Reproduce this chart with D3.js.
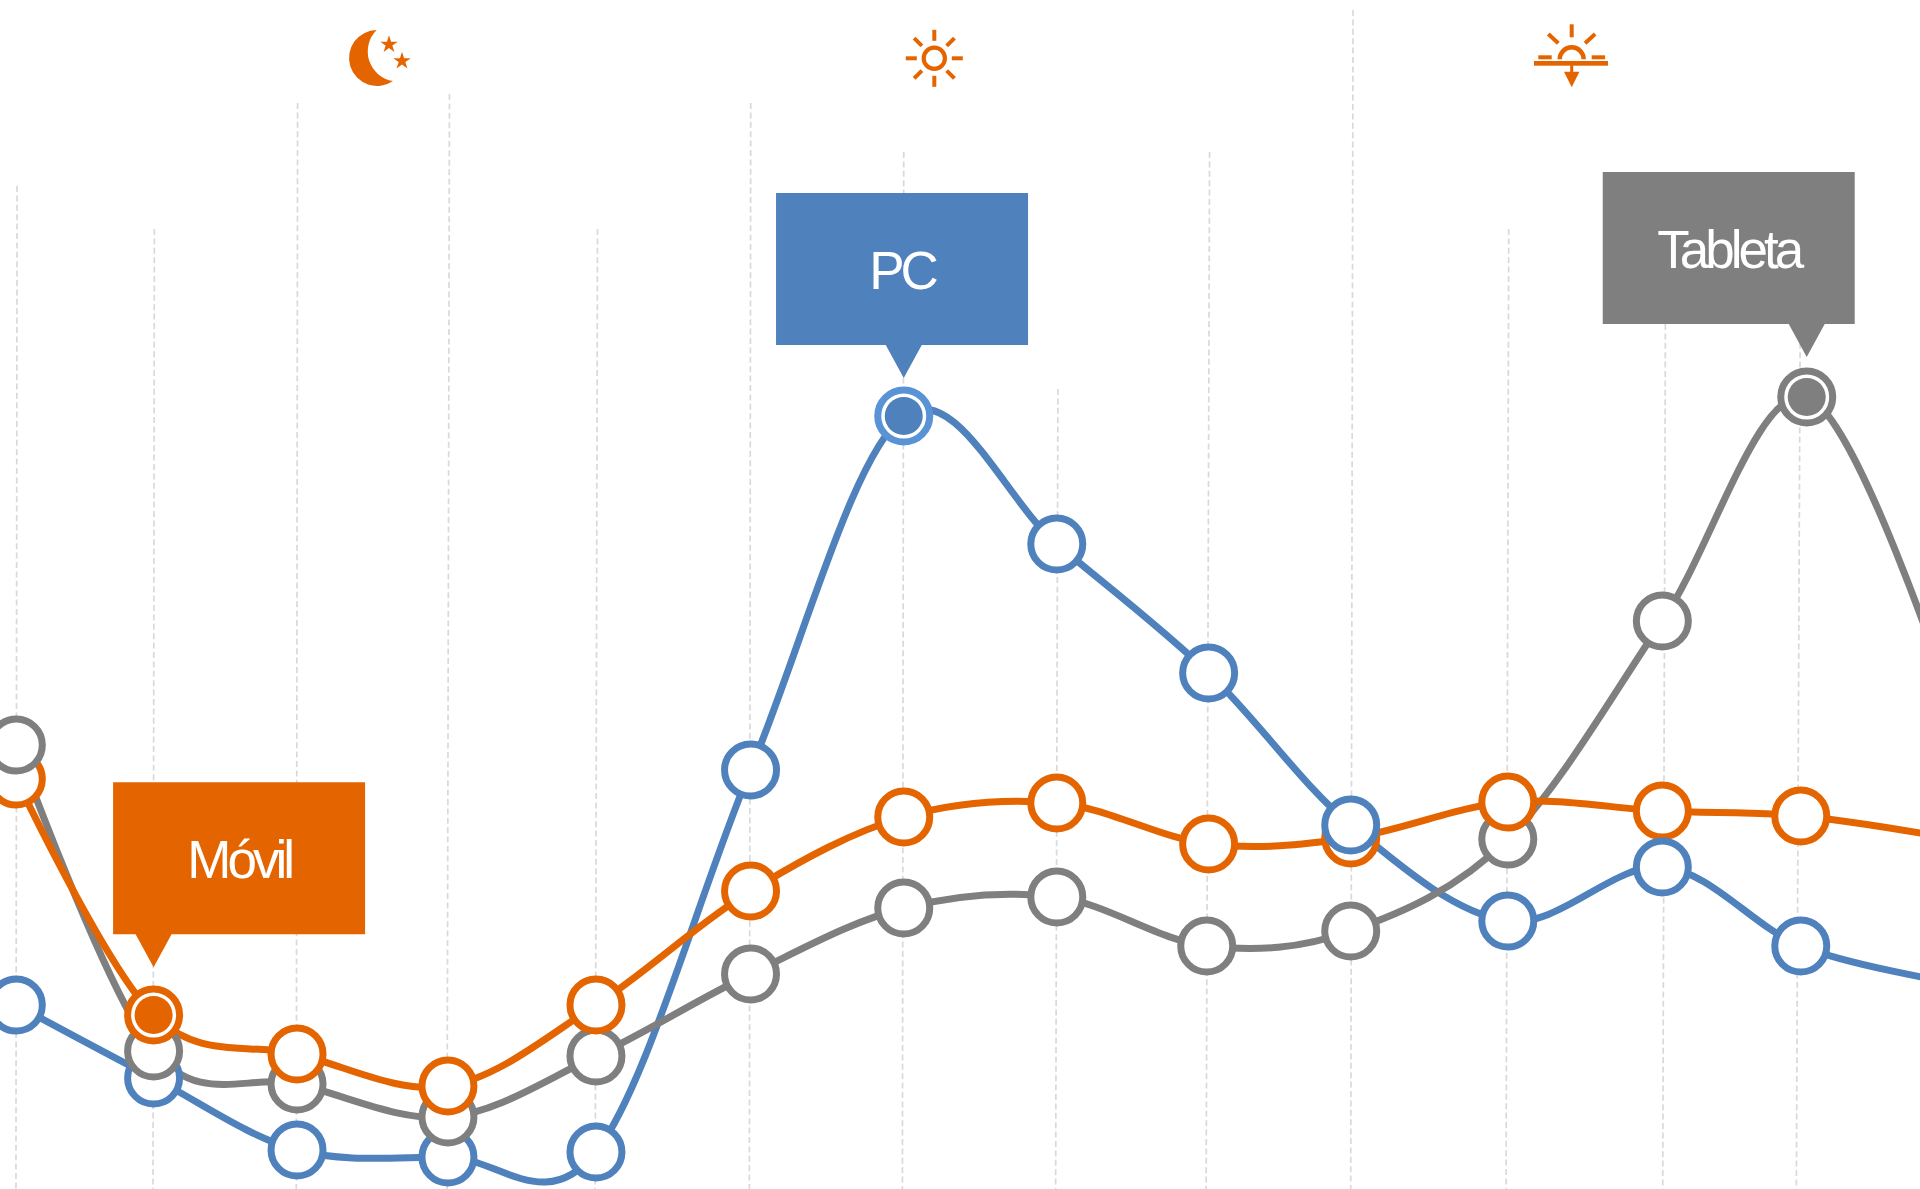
<!DOCTYPE html>
<html>
<head>
<meta charset="utf-8">
<style>
    html, body { margin: 0; padding: 0; background: #fff; overflow: hidden; }
    svg { display: block; }
</style>
<script src="https://cdn.jsdelivr.net/npm/d3@7"></script>
</head>
<body>
<svg id="chart" width="1920" height="1189"></svg>
<script>
// x positions of the time slots, as % of the chart width (last one is off the right edge)
const slots = [0.85, 8.0, 15.47, 23.33, 31.04, 39.09, 47.07, 55.04, 62.95, 70.35, 78.53, 86.58, 93.79, 101.5];
// the grey series sits a little right of the others at its peak
const tabletSlots = [0.85, 8.0, 15.47, 23.33, 31.04, 39.09, 47.07, 55.04, 62.85, 70.35, 78.53, 86.58, 94.1, 101.5];
const pcValues = [18.4, 11.1, 3.9, 3.2, 3.7, 41.9, 77.3, 64.5, 51.6, 36.4, 26.8, 32.2, 24.3, 20.7];
const tabletValues = [44.4, 13.8, 10.5, 7.2, 13.3, 21.5, 28.1, 29.2, 24.3, 25.8, 35.0, 56.8, 79.2, 49.3];
const mobileValues = [41.0, 17.4, 13.5, 10.3, 18.4, 29.8, 37.2, 38.6, 34.5, 35.1, 38.7, 37.8, 37.3, 35.1];

// where each dashed guide starts, same units as the values
const gridTops = [100.3, 96.0, 108.6, 109.5, 96.0, 108.6, 103.7, 80.0, 103.7, 117.9, 96.0, 86.5, 86.5];
// the guides lean a little, so top and bottom have their own x
const gridTopSlots = [0.89, 8.04, 15.5, 23.41, 31.12, 39.1, 47.07, 55.1, 63.0, 70.47, 78.58, 86.74, 93.76];
const gridBottomSlots = [0.83, 7.97, 15.43, 23.28, 31.0, 39.03, 47.0, 54.98, 62.82, 70.35, 78.44, 86.6, 93.56];

const labels = ["PC", "Tableta", "Móvil"];
const colors = ["#4f81bd", "#7f7f7f", "#e46500"];
const seriesValues = [pcValues, tabletValues, mobileValues];
const seriesSlots = [slots, tabletSlots, slots];
const peakSlots = [6, 12, 1];
const ringColors = ["#5a92d6", "#7f7f7f", "#e46500"];

const svg = d3.select("#chart");
const width = 1920, height = 1189;

const x = d3.scaleLinear().domain([0, 100]).range([0, width]);
const y = d3.scaleLinear().domain([0, 100]).range([height, height - 1000]);

// Guides
svg.append("g").selectAll("line")
    .data(gridTops)
    .join("line")
    .attr("x1", (d, i) => x(gridTopSlots[i]))
    .attr("x2", (d, i) => x(gridBottomSlots[i]))
    .attr("y1", d => y(d))
    .attr("y2", height)
    .attr("stroke", "#d9d9d9")
    .attr("stroke-width", 1.7)
    .attr("stroke-dasharray", "6 3.4");

// Lines
svg.append("g").selectAll("path")
    .data(seriesValues)
    .join("path")
    .attr("d", (values, s) => d3.line()
        .x((d, i) => x(seriesSlots[s][i]))
        .y(d => y(d))
        .curve(d3.curveCatmullRom.alpha(0))(values))
    .attr("fill", "none")
    .attr("stroke", (d, i) => colors[i])
    .attr("stroke-width", 7);

// Markers, blue under grey under orange except where noted
const markers = [];
seriesValues.forEach((values, s) => {
    values.slice(0, 13).forEach((v, i) => {
        let order = s;
        if (i === 0 && s === 1) order = 3;
        if ((i === 9 || i === 11) && s === 0) order = 3;
        markers.push({ s, i, v, order });
    });
});
markers.sort((a, b) => a.order - b.order);

const markerG = svg.append("g").selectAll("g")
    .data(markers)
    .join("g")
    .attr("transform", d => `translate(${x(seriesSlots[d.s][d.i])},${y(d.v)})`);

markerG.append("circle")
    .attr("r", 26)
    .attr("fill", "#fff")
    .attr("stroke", d => peakSlots[d.s] === d.i ? ringColors[d.s] : colors[d.s])
    .attr("stroke-width", 7);

markerG.filter(d => peakSlots[d.s] === d.i)
    .append("circle")
    .attr("r", 19)
    .attr("fill", d => colors[d.s]);

// Callouts
const boxW = 252, boxH = 152, tailW = 36, tailH = 33;
const boxLefts = [-127.7, -204, -40.5];
const tailGaps = [38, 40, 47.7];

const callouts = svg.append("g").selectAll("g")
    .data(labels)
    .join("g")
    .attr("transform", (d, s) => {
        const px = x(seriesSlots[s][peakSlots[s]]);
        const py = y(seriesValues[s][peakSlots[s]]);
        return `translate(${px},${py - tailGaps[s]})`;
    });

callouts.append("path")
    .attr("d", (d, s) => {
        const l = boxLefts[s];
        return `M${l},${-tailH - boxH}h${boxW}v${boxH}H${tailW / 2}L0,0L${-tailW / 2},${-tailH}H${l}Z`;
    })
    .attr("fill", (d, s) => colors[s]);

callouts.append("text")
    .attr("x", (d, s) => boxLefts[s] + boxW / 2)
    .attr("y", -tailH - boxH / 2 + 19.5)
    .attr("text-anchor", "middle")
    .attr("font-family", "'Liberation Sans', Arial, sans-serif")
    .attr("font-size", 53)
    .attr("letter-spacing", -4)
    .attr("fill", "#fff")
    .text(d => d);

// Icons across the top
const orange = "#e46500";
const icons = svg.append("g");

// moon and stars
icons.append("path")
    .attr("d", "M376.7,30A28,28 0 1 0 393,81A30,30 0 0 1 376.7,30Z")
    .attr("fill", orange);
const star = d3.symbol().type(d3.symbolStar).size(95);
icons.selectAll(".star")
    .data([[389, 44.5], [402, 61]])
    .join("path")
    .attr("class", "star")
    .attr("transform", d => `translate(${d[0]},${d[1]})`)
    .attr("d", star)
    .attr("fill", orange);

// sun
const sun = icons.append("g").attr("transform", "translate(934.3,58.3)");
sun.append("circle")
    .attr("r", 10.6)
    .attr("fill", "none")
    .attr("stroke", orange)
    .attr("stroke-width", 4.2);
sun.selectAll("line")
    .data(d3.range(8))
    .join("line")
    .attr("y1", -17.5)
    .attr("y2", -28.5)
    .attr("transform", d => `rotate(${d * 45})`)
    .attr("stroke", orange)
    .attr("stroke-width", 4);

// sunset
const sunset = icons.append("g").attr("transform", "translate(1571.7,59.3)");
sunset.append("path")
    .attr("d", "M-12,0A12,12 0 0 1 12,0")
    .attr("fill", "none")
    .attr("stroke", orange)
    .attr("stroke-width", 4.5);
sunset.append("rect")
    .attr("x", -37.7)
    .attr("y", 1.7)
    .attr("width", 74)
    .attr("height", 4.7)
    .attr("fill", orange);
sunset.selectAll("line")
    .data([[0, -35, 0, -22], [-23.4, -25.3, -13.4, -16], [23.4, -25.3, 13.4, -16], [-33.4, -2, -20, -2], [33.4, -2, 20, -2]])
    .join("line")
    .attr("x1", d => d[0])
    .attr("y1", d => d[1])
    .attr("x2", d => d[2])
    .attr("y2", d => d[3])
    .attr("stroke", orange)
    .attr("stroke-width", 4);
sunset.append("path")
    .attr("d", "M-1.5,6H1.5V12.4H7.7L0,28L-7.7,12.4H-1.5Z")
    .attr("fill", orange);
</script>
</body>
</html>
